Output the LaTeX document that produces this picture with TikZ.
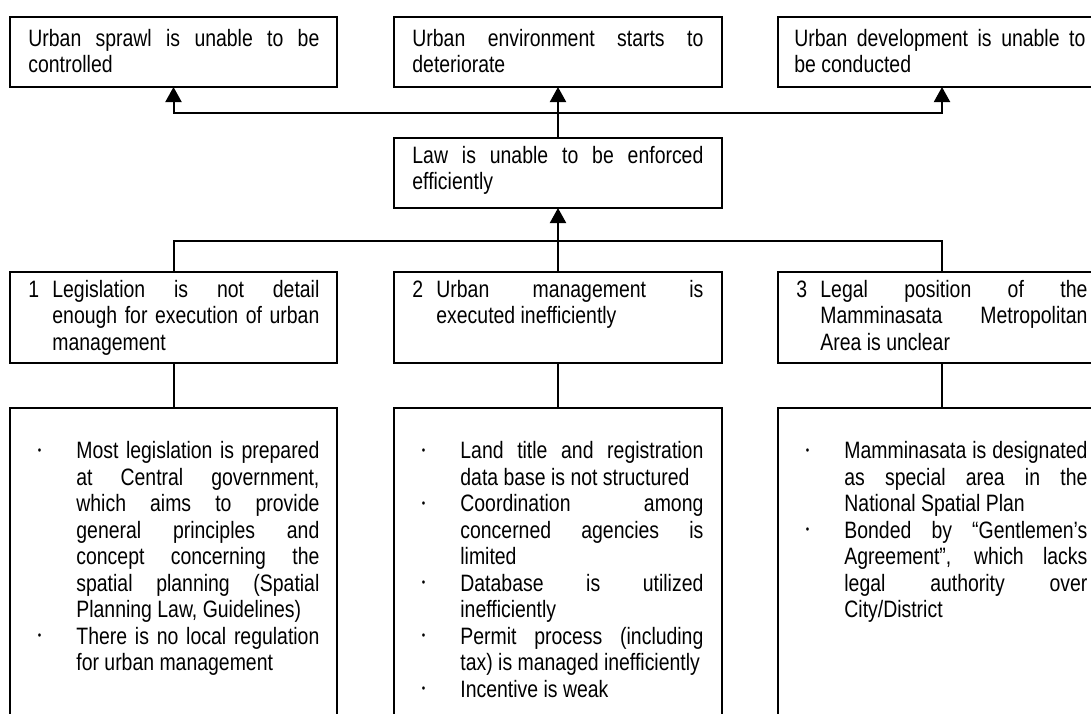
\documentclass[tikz,border=0pt]{standalone}
\usepackage{fontspec}
\setmainfont{Liberation Sans}[FakeStretch=0.82]
\usetikzlibrary{arrows.meta}

% small raised bullet hung to the left of each list item
\newcommand\bulletmark{\raisebox{2.2pt}{\fontsize{6}{6}\selectfont\textbullet}}
\newcommand\itm{\par\noindent\llap{\bulletmark\hspace{17.6pt}}}
% number hung to the left of a heading
\newcommand\num[1]{\llap{\makebox[12pt][l]{#1}}}

\tikzset{
  x=0.5pt, y=-0.5pt,
  box/.style={draw, line width=1pt, inner sep=0pt, outer sep=0pt,
    anchor=north west, minimum width=#1},
  txt/.style={anchor=base west, inner sep=0pt, text width=#1, align=justify,
    font=\fontsize{11.85}{13.25}\selectfont,
    execute at begin node={\tolerance=10000\hyphenpenalty=10000\exhyphenpenalty=10000}},
  wire/.style={line width=1pt},
  uparrow/.style={wire, -{Triangle[width=8pt,length=7.5pt]}},
  botharrow/.style={wire, {Triangle[width=8pt,length=7.5pt]}-{Triangle[width=8pt,length=7.5pt]}},
}

\begin{document}
\begin{tikzpicture}
\useasboundingbox (0,0) rectangle (1091,713);
\clip (0,0) rectangle (1091,713);

% consequences
\node[box=163.5pt, minimum height=35pt] (t1) at (10,17) {};
\node[box=164pt, minimum height=35pt] (t2) at (394,17) {};
\node[box=164pt, minimum height=35pt] (t3) at (778,17) {};
\node[txt=145.5pt] (t1txt) at ([shift={(18,29)}]t1.north west)
  {Urban sprawl is unable to be\linebreak controlled};
\node[txt=145.5pt] (t2txt) at ([shift={(18,29)}]t2.north west)
  {Urban environment starts to\linebreak deteriorate};
\node[txt=145.5pt] (t3txt) at ([shift={(16,29)}]t3.north west)
  {Urban development is unable to\linebreak be conducted};

% core problem
\node[box=164pt, minimum height=35pt] (law) at (394,138) {};
\node[txt=145.5pt] (lawtxt) at ([shift={(18,25)}]law.north west)
  {Law is unable to be enforced\linebreak efficiently};

% causes
\node[box=163.5pt, minimum height=45.5pt] (b1) at (10,272) {};
\node[box=164pt, minimum height=45.5pt] (b2) at (394,272) {};
\node[box=164pt, minimum height=45.5pt] (b3) at (778,272) {};
\node[txt=133.5pt] (b1txt) at ([shift={(42,25)}]b1.north west)
  {\num{1}Legislation is not detail\linebreak enough for execution of urban\linebreak management};
\node[txt=133.5pt] (b2txt) at ([shift={(42,25)}]b2.north west)
  {\num{2}Urban management is\linebreak executed inefficiently};
\node[txt=133.5pt] (b3txt) at ([shift={(42,25)}]b3.north west)
  {\num{3}Legal position of the\linebreak Mamminasata Metropolitan\linebreak Area is unclear};

% details (open at the bottom)
\node[box=163.5pt, minimum height=170pt] (c1) at (10,408) {};
\node[box=164pt, minimum height=170pt] (c2) at (394,408) {};
\node[box=164pt, minimum height=170pt] (c3) at (778,408) {};
\node[txt=121.5pt] (c1txt) at ([shift={(66,24)}]c1.north west)
  {\itm Most legislation is prepared\linebreak at Central government,\linebreak which aims to provide\linebreak general principles and\linebreak concept concerning the\linebreak spatial planning (Spatial\linebreak Planning Law, Guidelines)
   \itm There is no local regulation\linebreak for urban management};
\node[txt=121.5pt] (c2txt) at ([shift={(66,24)}]c2.north west)
  {\itm Land title and registration\linebreak data base is not structured
   \itm Coordination among\linebreak concerned agencies is\linebreak limited
   \itm Database is utilized\linebreak inefficiently
   \itm Permit process (including\linebreak tax) is managed inefficiently
   \itm Incentive is weak};
\node[txt=121.5pt] (c3txt) at ([shift={(66,24)}]c3.north west)
  {\itm Mamminasata is designated\linebreak as special area in the\linebreak National Spatial Plan
   \itm Bonded by “Gentlemen’s\linebreak Agreement”, which lacks\linebreak legal authority over\linebreak City/District};

% connectors
\coordinate (busA) at (558,113);
\coordinate (busB) at (558,241);
\draw[uparrow] (law.north) -- (t2.south);
\draw[botharrow] (t1.south) |- (busA) -| (t3.south);
\draw[uparrow] (b2.north) -- (law.south);
\draw[wire] (b1.north) |- (busB) -| (b3.north);
\draw[wire] (b1.south) -- (c1.north);
\draw[wire] (b2.south) -- (c2.north);
\draw[wire] (b3.south) -- (c3.north);
\end{tikzpicture}
\end{document}
